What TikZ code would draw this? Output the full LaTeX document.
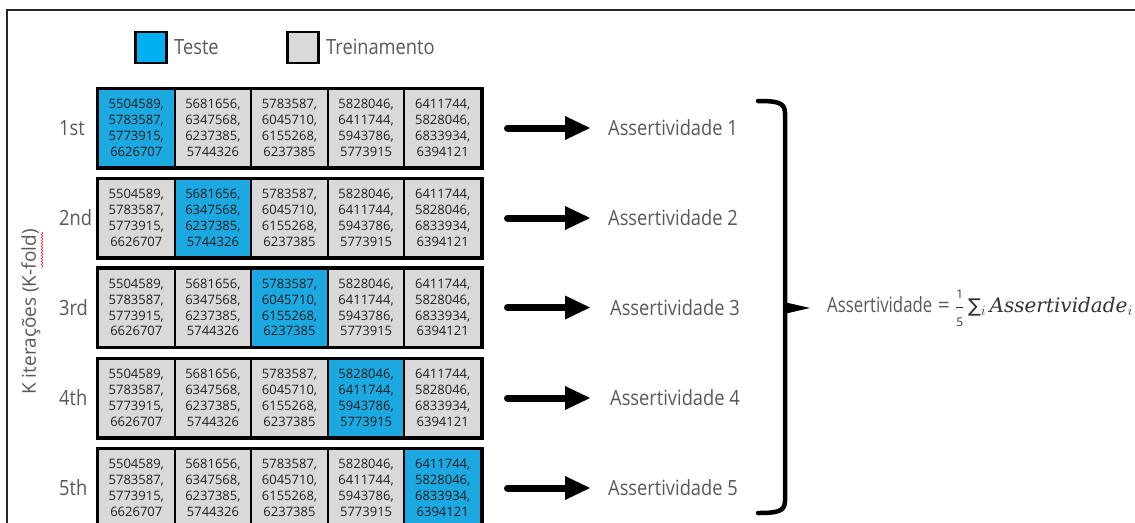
\documentclass[tikz,border=0pt]{standalone}
\usepackage{graphicx}
\usepackage{amsmath}
\usepackage{fontspec}
\setmainfont{Open Sans}
\newfontfamily\serifit{DejaVu Serif}
\newfontfamily\symfont{DejaVu Sans}
\usetikzlibrary{arrows.meta,fit,decorations.pathmorphing}

\definecolor{legblue}{HTML}{00B0F0}
\definecolor{cellblue}{HTML}{1CA8E0}
\definecolor{cellgray}{HTML}{D9D9D9}
\definecolor{labgray}{HTML}{595959}
\definecolor{numtext}{HTML}{1F1F1F}

% narrow setting of the label font
\newcommand{\nx}[1]{\scalebox{0.87}[1]{#1}}
\newcommand{\nxf}[1]{\scalebox{0.80}[1]{#1}}
% small numerals for the one-fifth factor
\newcommand{\smallnum}[1]{\mbox{\fontsize{12}{12}\selectfont #1}}

\tikzset{
  cell/.style={draw=black, line width=2pt, minimum width=76.6pt, minimum height=78pt,
    inner sep=0pt, align=center, text=numtext,
    font=\fontsize{13}{15.8}\selectfont},
  trainbox/.style={cell, fill=cellgray},
  testbox/.style={cell, fill=cellblue},
  rowframe/.style={draw=black, line width=3pt, inner sep=0pt},
  legbox/.style={draw=black, line width=2.5pt, minimum size=31pt, inner sep=0pt},
  labtext/.style={text=labgray, inner sep=0pt, font=\fontsize{21}{25}\selectfont},
  bigarrow/.style={line width=7pt, line cap=round,
    -{Triangle[length=25pt,width=24pt,line width=0pt]}},
}

\begin{document}
\begin{tikzpicture}[x=1pt,y=-1pt]
\useasboundingbox (0,0) rectangle (1135,522);
\clip (0,0) rectangle (1135,522);
\fill[white] (0,0) rectangle (1135,522);

% outer frame
\draw[line width=2pt, draw=black!85] (7,10) rectangle (1160,560);

% legend
\node[legbox, fill=legblue] (kteste) at (151,47.5) {};
\node[labtext, anchor=west] (lteste) at (174,47) {\nx{Teste}};
\node[legbox, fill=cellgray] (ktrein) at (303,47.5) {};
\node[labtext, anchor=west] (ltrein) at (326,47) {\nx{Treinamento}};

% vertical axis label
\node[rotate=90, text=labgray, font=\fontsize{19}{23}\selectfont] (kfold) at (31,312) {K iterações (K-fold)};
\draw[red!85, line width=0.6pt, decorate, decoration={snake, amplitude=0.8pt, segment length=3pt}]
  ([shift={(11,-80)}]kfold.center) -- ([shift={(11,-44)}]kfold.center);

% folds
\foreach \r/\yc/\lab/\ax in {1/128/1st/608, 2/218/2nd/608, 3/307.5/3rd/610, 4/398/4th/610, 5/488/5th/608} {
  \foreach \c/\txt in {
      1/{5504589,\\5783587,\\5773915,\\6626707},
      2/{5681656,\\6347568,\\6237385,\\5744326},
      3/{5783587,\\6045710,\\6155268,\\6237385},
      4/{5828046,\\6411744,\\5943786,\\5773915},
      5/{6411744,\\5828046,\\6833934,\\6394121}} {
    \ifnum\c=\r \def\sty{testbox}\else \def\sty{trainbox}\fi
    \node[\sty] (r\r c\c) at ({98+76.6*(\c-0.5)},\yc) {\txt};
  }
  \node[rowframe, fit=(r\r c1)(r\r c5)] (row\r) {};
  \node[labtext, anchor=west] (lab\r) at (59,\yc) {\nx{\lab}};
  \node[labtext, anchor=west] (as\r) at (\ax,\yc) {\nx{Assertividade \r}};
  \pgfmathsetmacro{\gap}{\ax-590}
  \draw[bigarrow, shorten <=24pt, shorten >=\gap pt] (row\r.east) -- (as\r.west);
}

% brace collecting the five scores
\draw[line width=4.5pt, line cap=round, line join=round]
  (758,101) .. controls (776,101) and (785,102) .. (785,113) -- (785,501)
  .. controls (785,512) and (776,513) .. (758,513);
\fill (784,302) .. controls (797,305) .. (810,308) .. controls (797,311) .. (784,314) -- cycle;

% average
\node[anchor=west, inner sep=0pt, text=labgray, font=\fontsize{21}{25}\selectfont] (avg) at (827,308)
  {\nxf{Assertividade} = \textcolor{black!80}{$\genfrac{}{}{0.6pt}{0}{\smallnum{1}}{\smallnum{5}}$\,{\symfont\fontsize{19}{19}\selectfont ∑}$_i$\,{\serifit\itshape\fontsize{20}{24}\selectfont Assertividade}$_i$}};
\end{tikzpicture}
\end{document}
